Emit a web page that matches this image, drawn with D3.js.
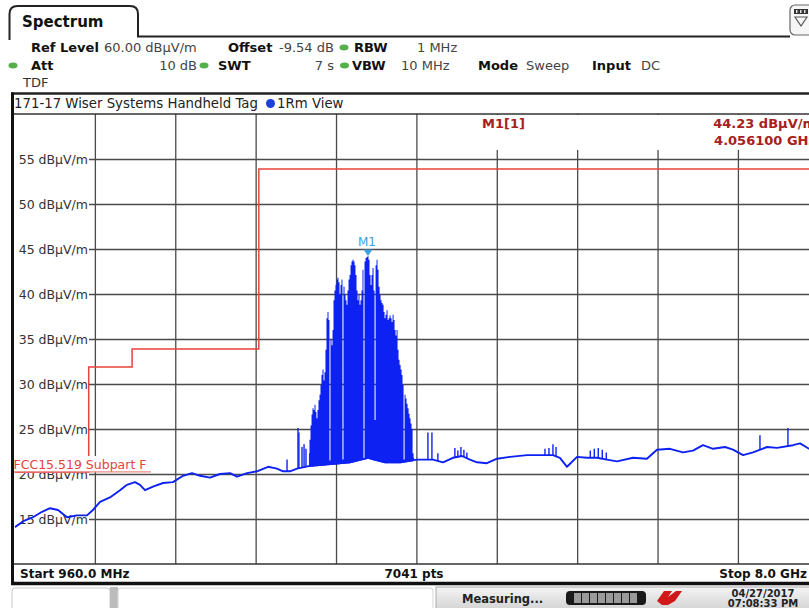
<!DOCTYPE html>
<html><head><meta charset="utf-8">
<script src="https://cdn.jsdelivr.net/npm/d3@7"></script>
<style>
body{margin:0;background:#fff;overflow:hidden}
svg{display:block}
text{font-family:"DejaVu Sans",Verdana,sans-serif}
</style>
</head><body>
<svg id="c" width="809" height="608"></svg>
<script>
// ---------------- DATA ----------------
const freqStart = 960, freqStop = 8000;          // MHz
const levelMin = 10, levelMax = 60;              // dBµV/m
const yTicks = [15, 20, 25, 30, 35, 40, 45, 50, 55];
const xGridFreqs = [1664, 2368, 3072, 3776, 4480, 5184, 5888, 6592, 7296];

// noise floor trace (MHz, dBµV/m)
const floorFreq = [964,1043,1122,1201,1271,1341,1420,1507,1595,1647,1709,1796,1884,1945,2015,2059,2103,2173,2261,2348,2436,2515,2585,2672,2760,2848,2909,2997,3084,3181,3259,3312,3373,3434,3548,3723,3899,4056,4205,4337,4485,4625,4713,4800,4879,4949,5011,5098,5186,5300,5449,5562,5676,5737,5799,5887,5974,6062,6149,6237,6377,6499,6587,6701,6815,6902,6990,7078,7183,7253,7341,7428,7551,7638,7778,7840,7919,8000];
const floorLevel = [14.1,14.8,15.2,15.8,16.2,16.0,15.2,15.4,15.4,16.0,16.9,17.4,18.2,18.8,19.1,18.8,18.2,18.6,19.0,19.1,19.8,20.1,19.8,19.6,20.0,20.1,19.7,20.1,20.3,20.8,20.6,20.3,20.3,20.6,20.9,21.1,21.3,21.8,21.3,21.3,21.6,21.6,21.3,21.8,22.0,21.6,21.3,21.2,21.7,21.9,22.1,22.1,22.1,21.8,20.8,21.9,21.8,21.8,21.6,21.4,21.8,21.7,22.7,22.8,22.4,22.6,23.2,22.8,23.0,22.7,22.1,22.4,23.0,22.9,23.2,23.4,22.8,22.9];

// UWB burst peak envelope (MHz, dBµV/m)
const burstFreq = [3539,3548,3557,3566,3574,3583,3592,3600,3609,3618,3627,3636,3644,3653,3662,3671,3679,3688,3697,3706,3714,3723,3732,3741,3750,3758,3767,3776,3785,3793,3802,3811,3820,3828,3837,3846,3855,3863,3872,3881,3890,3899,3907,3916,3925,3934,3942,3951,3960,3969,3977,3986,3995,4004,4012,4021,4030,4039,4048,4056,4065,4074,4083,4091,4100,4109,4118,4127,4135,4144,4153,4162,4170,4179,4188,4197,4205,4214,4223,4232,4240,4249,4258,4267,4276,4284,4293,4302,4311,4319,4328,4337,4346,4354,4363,4372,4381,4389,4398,4407,4416,4424,4433,4442,4451,4459];
const burstLevel = [22.3,23.8,25.4,26.6,27.3,27.1,27.7,26.9,26.2,27.1,28.2,28.8,29.9,31.0,31.6,30.4,31.3,33.8,37.3,38.0,37.1,21.5,34.9,34.3,36.0,39.3,40.4,41.0,41.6,41.8,41.3,40.0,41.0,41.6,21.6,40.8,39.9,39.3,38.8,40.4,41.6,42.1,43.2,43.6,43.8,43.6,43.2,42.1,40.4,39.3,39.9,38.8,39.3,40.4,42.7,21.7,43.6,44.0,44.1,44.2,43.8,42.1,41.0,42.1,42.9,40.4,26.0,43.2,43.8,42.7,40.8,39.9,39.3,39.0,38.8,38.0,37.3,37.7,38.2,37.1,37.3,37.6,37.3,36.9,37.7,37.1,36.0,35.4,36.0,33.8,32.7,32.1,31.6,31.0,29.9,21.6,28.8,28.4,27.8,27.3,26.7,26.2,25.6,25.0,22.3,21.8];

// isolated spurs / narrow spikes
const spikeFreq  = [3347,3443,3451,3478,3496,3513,4581,4616,4668,4817,4843,4870,4896,4922,5606,5641,5676,5703,6003,6038,6073,6108,6143,7489,7734];
const spikeLevel = [21.6,25.1,24.6,23.0,23.3,22.8,24.6,24.6,22.3,22.9,22.6,23.0,22.7,22.4,22.8,22.9,23.3,23.0,22.6,22.8,22.9,22.7,22.4,24.3,25.1];

// FCC 15.519 limit line (step)
const limitFreq  = [960, 1610, 1990, 3100, 8000];
const limitLevel = [20.2, 31.9, 33.9, 53.9, 53.9];

// marker
const markerName = "M1";
const markerFreq = 4056.1, markerLevel = 44.23;
const markerText = ["44.23 dBµV/m", "4.056100 GHz"];

// ---------------- DRAW ----------------
const svg = d3.select("#c");
const PL = 14.5, PR = 818.3, PT = 114, PB = 564;
const x = d3.scaleLinear().domain([freqStart, freqStop]).range([PL, PR]);
const y = d3.scaleLinear().domain([levelMin, levelMax]).range([PB, PT]);
const blue = "#0d22f2", red = "#e8423c", dark = "#222";

// --- tab & header ---
svg.append("path").attr("d","M9.5,40 V14 Q9.5,6 17.5,6 H130 Q138,6 138,14 V36.5 H790")
  .attr("fill","none").attr("stroke",dark).attr("stroke-width",2);
svg.append("text").attr("x",22).attr("y",27).attr("font-size",15).attr("font-weight","bold").attr("fill","#111").text("Spectrum");
// top-right icon
const ic = svg.append("g");
ic.append("rect").attr("x",790).attr("y",5).attr("width",26).attr("height",30).attr("rx",5)
  .attr("fill","#f6f6f6").attr("stroke","#666").attr("stroke-width",1.2);
ic.append("rect").attr("x",794).attr("y",9).attr("width",14).attr("height",5).attr("fill","#333");
[797,801,805].forEach(v=>ic.append("rect").attr("x",v-1).attr("y",10).attr("width",1.5).attr("height",3).attr("fill","#ddd"));
ic.append("path").attr("d","M795,17 H807 L801,26 Z").attr("fill","none").attr("stroke","#555").attr("stroke-width",1.2);

const hdr = svg.append("g").attr("font-size",13);
function ht(xx,yy,t,bold,fill,anchor){hdr.append("text").attr("x",xx).attr("y",yy).attr("text-anchor",anchor||"start").attr("font-weight",bold?"bold":"normal").attr("fill",fill||(bold?"#111":"#444")).text(t);}
function hdot(cx,cy){hdr.append("ellipse").attr("cx",cx).attr("cy",cy).attr("rx",4.5).attr("ry",3).attr("fill","#55b04a");}
ht(31,52,"Ref Level",true); ht(104,52,"60.00 dBµV/m",false);
ht(228,52,"Offset",true); ht(279,52,"-9.54 dB",false); hdot(344,47.5);
ht(354,52,"RBW",true); ht(417,52,"1 MHz",false);
hdot(13,65.5); ht(31,70,"Att",true); ht(197,70,"10 dB",false,null,"end");
hdot(204,65.5); ht(218,70,"SWT",true); ht(334,70,"7 s",false,null,"end");
hdot(344.5,65.5); ht(352,70,"VBW",true); ht(401,70,"10 MHz",false);
ht(478,70,"Mode",true); ht(526,70,"Sweep",false); ht(592,70,"Input",true); ht(641,70,"DC",false);
ht(23,87,"TDF",false,"#333");

// diagram frame
svg.append("line").attr("x1",11).attr("x2",809).attr("y1",93.5).attr("y2",93.5).attr("stroke",dark).attr("stroke-width",2.5);
svg.append("text").attr("x",14).attr("y",108).attr("font-size",13.3).attr("fill","#222").text("171-17 Wiser Systems Handheld Tag");
svg.append("circle").attr("cx",270.5).attr("cy",103.5).attr("r",4.5).attr("fill","#1e3fd8");
svg.append("text").attr("x",277).attr("y",108).attr("font-size",13.3).attr("fill","#222").text("1Rm View");

// --- grid / axes ---
const gx = svg.append("g").attr("transform",`translate(0,${PB})`)
  .call(d3.axisBottom(x).tickValues(xGridFreqs).tickSize(-(PB-PT)).tickFormat(""));
gx.select(".domain").remove();
gx.selectAll("line").attr("stroke","#4a4a4a").attr("stroke-width",1.3);

const gy = svg.append("g").attr("transform",`translate(${PR},0)`)
  .call(d3.axisLeft(y).tickValues(yTicks).tickSize(PR-89).tickPadding(1).tickFormat(d=>d+" dBµV/m"));
gy.select(".domain").remove();
gy.selectAll("line").attr("stroke","#4a4a4a").attr("stroke-width",1.3);
gy.selectAll("text").attr("font-size",12.5).attr("fill","#333").attr("font-family","DejaVu Sans, Verdana, sans-serif");

// clip
const defs = svg.append("defs");
defs.append("clipPath").attr("id","pc").append("rect")
  .attr("x",PL).attr("y",PT).attr("width",PR-PL).attr("height",PB-PT);
const plot = svg.append("g").attr("clip-path","url(#pc)");

// limit line
const limPts = limitFreq.map((f,i)=>[f,limitLevel[i]]);
plot.append("path").datum(limPts)
  .attr("d", d3.line().x(d=>x(d[0])).y(d=>y(d[1])).curve(d3.curveStepAfter))
  .attr("fill","none").attr("stroke",red).attr("stroke-width",1.5);

// trace
const floorPts = floorFreq.map((f,i)=>[f,floorLevel[i]]);
const floorAt = f => { const i = d3.bisector(d=>d[0]).left(floorPts,f);
  if(i<=0) return floorPts[0][1]; if(i>=floorPts.length) return floorPts[floorPts.length-1][1];
  const a=floorPts[i-1], b=floorPts[i]; return a[1]+(b[1]-a[1])*(f-a[0])/(b[0]-a[0]); };
const burstPts = burstFreq.map((f,i)=>[f,burstLevel[i]]);
plot.append("path").datum(burstPts)
  .attr("d", d3.area().x(d=>x(d[0])).y0(d=>y(floorAt(d[0]))+1).y1(d=>y(d[1])).curve(d3.curveStep))
  .attr("fill",blue).attr("stroke","none");
plot.selectAll("line.spk").data(spikeFreq.map((f,i)=>[f,spikeLevel[i]])).join("line").attr("class","spk")
  .attr("x1",d=>x(d[0])).attr("x2",d=>x(d[0])).attr("y1",d=>y(floorAt(d[0]))).attr("y2",d=>y(d[1]))
  .attr("stroke",blue).attr("stroke-width",1.4);
plot.append("path").datum(floorPts)
  .attr("d", d3.line().x(d=>x(d[0])).y(d=>y(d[1])))
  .attr("fill","none").attr("stroke",blue).attr("stroke-width",1.9).attr("stroke-linejoin","round");

// limit label
svg.append("rect").attr("x",13).attr("y",456).attr("width",138).attr("height",15.5).attr("fill","#fff");
svg.append("text").attr("x",13.5).attr("y",468.5).attr("font-size",12.5).attr("fill",red).text("FCC15.519 Subpart F");
svg.append("line").attr("x1",13).attr("x2",151).attr("y1",471.8).attr("y2",471.8).attr("stroke","#f08a86").attr("stroke-width",1.2);

// marker
const mx = x(markerFreq), my = y(markerLevel);
svg.append("path").attr("d",`M${mx-4.5},${my-6.5} H${mx+4.5} L${mx},${my} Z`).attr("fill","#3aa0dc");
svg.append("text").attr("x",mx-1).attr("y",my-10).attr("text-anchor","middle").attr("font-size",12).attr("fill","#3aa0dc").text(markerName);

// marker info box
svg.append("rect").attr("x",418).attr("y",115).attr("width",400).attr("height",35).attr("fill","#fff");
svg.append("text").attr("x",482).attr("y",128).attr("font-size",13).attr("font-weight","bold").attr("fill","#a8201c").text("M1[1]");
svg.append("text").attr("x",816).attr("y",128).attr("text-anchor","end").attr("font-size",13).attr("font-weight","bold").attr("fill","#a8201c").text(markerText[0]);
svg.append("text").attr("x",816).attr("y",145).attr("text-anchor","end").attr("font-size",13).attr("font-weight","bold").attr("fill","#a8201c").text(markerText[1]);

// frame lines
svg.append("line").attr("x1",12).attr("x2",809).attr("y1",PT).attr("y2",PT).attr("stroke","#333").attr("stroke-width",1.5);
svg.append("line").attr("x1",12).attr("x2",809).attr("y1",PB).attr("y2",PB).attr("stroke","#333").attr("stroke-width",1.5);
svg.append("line").attr("x1",12.5).attr("x2",12.5).attr("y1",92.5).attr("y2",585).attr("stroke","#111").attr("stroke-width",3);

// bottom bar
const bb = svg.append("g").attr("font-size",12).attr("font-weight","bold").attr("fill","#111");
bb.append("text").attr("x",20).attr("y",577.5).text("Start 960.0 MHz");
bb.append("text").attr("x",414).attr("y",577.5).attr("text-anchor","middle").text("7041 pts");
bb.append("text").attr("x",807).attr("y",577.5).attr("text-anchor","end").text("Stop 8.0 GHz");
svg.append("line").attr("x1",11).attr("x2",809).attr("y1",583.5).attr("y2",583.5).attr("stroke","#111").attr("stroke-width",3.5);

// status strip
const lg = defs.append("linearGradient").attr("id","sg").attr("x1",0).attr("y1",0).attr("x2",0).attr("y2",1);
lg.append("stop").attr("offset","0").attr("stop-color","#f4f4f4");
lg.append("stop").attr("offset","1").attr("stop-color","#d2d2d2");
svg.append("rect").attr("x",12).attr("y",588).attr("width",98).attr("height",24).attr("rx",3).attr("fill","#fff").attr("stroke","#c8c8c8");
svg.append("rect").attr("x",110).attr("y",587).attr("width",8).attr("height",22).attr("fill","#bbb");
svg.append("rect").attr("x",118).attr("y",588).attr("width",315).attr("height",24).attr("rx",3).attr("fill","#fff").attr("stroke","#d4d4d4");
svg.append("rect").attr("x",436).attr("y",587).attr("width",380).attr("height",24).attr("fill","url(#sg)").attr("stroke","#aaa");
svg.append("text").attr("x",462).attr("y",602.5).attr("font-size",11.5).attr("font-weight","bold").attr("fill","#222").text("Measuring...");
svg.append("rect").attr("x",566).attr("y",591).attr("width",80).attr("height",14).attr("rx",4).attr("fill","#1a1a1a");
[574,582,590,598,606,614,622,630].forEach(v=>svg.append("rect").attr("x",v).attr("y",593).attr("width",7).attr("height",10).attr("fill","#9a9a9a"));
svg.append("path").attr("d","M657,601 L664,591 L672,591 L668,597 L676,591 L682,591 L675,601 L668,605 L662,605 Z").attr("fill","#d01818");
svg.append("text").attr("x",763).attr("y",597).attr("text-anchor","middle").attr("font-size",10).attr("font-weight","bold").attr("fill","#222").text("04/27/2017");
svg.append("text").attr("x",763).attr("y",607).attr("text-anchor","middle").attr("font-size",10).attr("font-weight","bold").attr("fill","#222").text("07:08:33 PM");
</script>
</body></html>
